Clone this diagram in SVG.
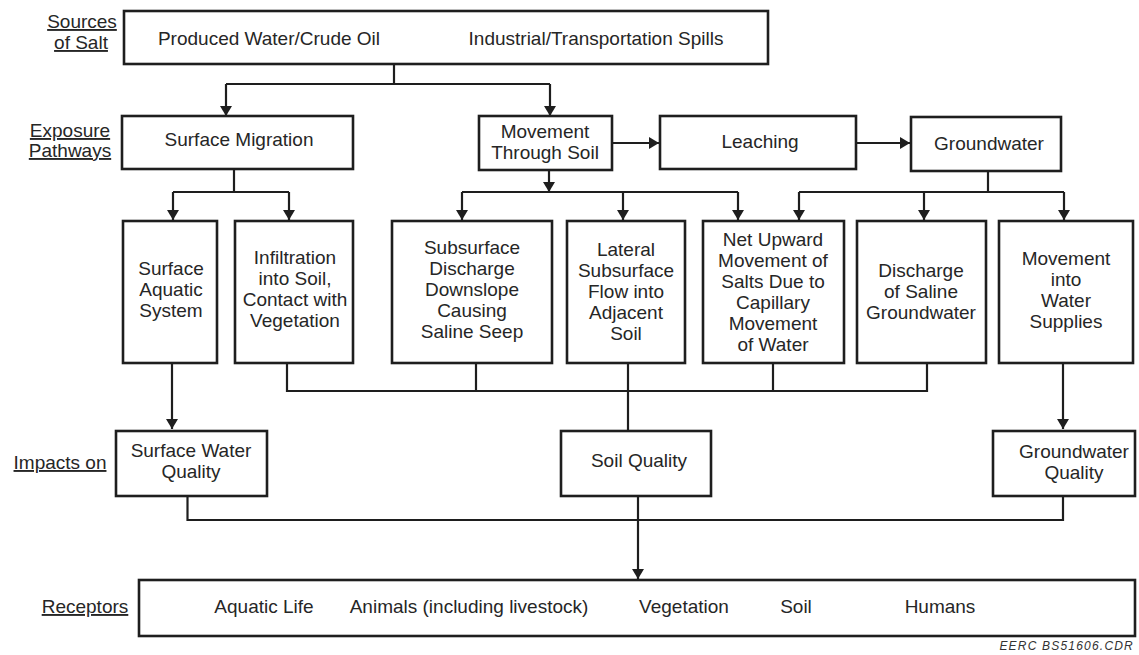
<svg xmlns="http://www.w3.org/2000/svg" width="1139" height="655" viewBox="0 0 1139 655">
<defs>
<style>
.box{fill:#fff;stroke:#1e1e1e;stroke-width:2.6}
.t{font-family:"Liberation Sans",Arial,sans-serif;font-size:19px;fill:#262626;text-anchor:middle}
.lbl{font-family:"Liberation Sans",Arial,sans-serif;font-size:19px;fill:#262626;text-anchor:middle;text-decoration:underline}
.c{fill:none;stroke:#1e1e1e;stroke-width:2.2}
.a{marker-end:url(#ah)}
.note{font-family:"Liberation Sans",Arial,sans-serif;font-size:12px;font-style:italic;fill:#333;text-anchor:end;letter-spacing:1.2px}
</style>
<marker id="ah" viewBox="0 0 10 12" markerUnits="userSpaceOnUse" markerWidth="11" markerHeight="12" refX="10" refY="6" orient="auto">
<path d="M0,0 L10,6 L0,12 z" fill="#1e1e1e"/>
</marker>
</defs>
<rect width="1139" height="655" fill="#fff"/>

<g id="labels">
<text class="lbl" x="82" y="28">Sources</text>
<text class="lbl" x="81" y="49">of Salt</text>
<text class="lbl" x="70" y="137">Exposure</text>
<text class="lbl" x="70" y="157">Pathways</text>
<text class="lbl" x="60" y="469">Impacts on</text>
<text class="lbl" x="85" y="613">Receptors</text>
<text class="note" x="1134" y="650">EERC BS51606.CDR</text>
</g>

<g id="connectors">
<path class="c" d="M394,64 V84 M226,84 H550"/>
<path class="c a" d="M226,84 V116"/>
<path class="c a" d="M550,84 V116"/>
<path class="c a" d="M612,143 H659"/>
<path class="c a" d="M856,143 H910"/>
<path class="c" d="M234,169 V192 M173,192 H289"/>
<path class="c a" d="M173,192 V220"/>
<path class="c a" d="M289,192 V220"/>
<path class="c a" d="M549,170 V192"/>
<path class="c" d="M462,192 H738"/>
<path class="c a" d="M462,192 V220"/>
<path class="c a" d="M623,192 V220"/>
<path class="c a" d="M738,192 V220"/>
<path class="c" d="M988,171 V192 M799,192 H1064"/>
<path class="c a" d="M799,192 V220"/>
<path class="c a" d="M924,192 V220"/>
<path class="c a" d="M1064,192 V220"/>
<path class="c a" d="M172,363 V429"/>
<path class="c" d="M287,363 V391 H927 V363 M476,363 V391 M773,363 V391"/>
<path class="c" d="M628,363 V431"/>
<path class="c a" d="M1063,363 V429"/>
<path class="c" d="M187.5,496 V520 H1063 V496"/>
<path class="c a" d="M638,496 V579"/>
</g>

<g id="sources">
<rect class="box" x="124" y="11" width="644" height="53"/>
<text class="t" x="269" y="45">Produced Water/Crude Oil</text>
<text class="t" x="596" y="45">Industrial/Transportation Spills</text>
</g>

<g id="surface-migration">
<rect class="box" x="122" y="116" width="231" height="53"/>
<text class="t" x="239" y="146">Surface Migration</text>
</g>
<g id="movement-through-soil">
<rect class="box" x="479" y="116" width="133" height="54"/>
<text class="t" x="545" y="138">Movement</text>
<text class="t" x="545" y="159">Through Soil</text>
</g>
<g id="leaching">
<rect class="box" x="660" y="116" width="196" height="53"/>
<text class="t" x="760" y="148">Leaching</text>
</g>
<g id="groundwater">
<rect class="box" x="911" y="117" width="150" height="54"/>
<text class="t" x="989" y="150">Groundwater</text>
</g>

<g id="surface-aquatic-system">
<rect class="box" x="123" y="221" width="94" height="142"/>
<text class="t" x="171" y="275">Surface</text>
<text class="t" x="171" y="296">Aquatic</text>
<text class="t" x="171" y="317">System</text>
</g>
<g id="infiltration">
<rect class="box" x="235" y="221" width="118" height="142"/>
<text class="t" x="295" y="264">Infiltration</text>
<text class="t" x="295" y="285">into Soil,</text>
<text class="t" x="295" y="306">Contact with</text>
<text class="t" x="295" y="327">Vegetation</text>
</g>
<g id="subsurface-discharge">
<rect class="box" x="392" y="221" width="160" height="142"/>
<text class="t" x="472" y="254">Subsurface</text>
<text class="t" x="472" y="275">Discharge</text>
<text class="t" x="472" y="296">Downslope</text>
<text class="t" x="472" y="317">Causing</text>
<text class="t" x="472" y="338">Saline Seep</text>
</g>
<g id="lateral-flow">
<rect class="box" x="567" y="221" width="118" height="142"/>
<text class="t" x="626" y="256">Lateral</text>
<text class="t" x="626" y="277">Subsurface</text>
<text class="t" x="626" y="298">Flow into</text>
<text class="t" x="626" y="319">Adjacent</text>
<text class="t" x="626" y="340">Soil</text>
</g>
<g id="net-upward">
<rect class="box" x="703" y="221" width="141" height="142"/>
<text class="t" x="773" y="246">Net Upward</text>
<text class="t" x="773" y="267">Movement of</text>
<text class="t" x="773" y="288">Salts Due to</text>
<text class="t" x="773" y="309">Capillary</text>
<text class="t" x="773" y="330">Movement</text>
<text class="t" x="773" y="351">of Water</text>
</g>
<g id="discharge-saline">
<rect class="box" x="857" y="221" width="129" height="142"/>
<text class="t" x="921" y="277">Discharge</text>
<text class="t" x="921" y="298">of Saline</text>
<text class="t" x="921" y="319">Groundwater</text>
</g>
<g id="movement-water-supplies">
<rect class="box" x="999" y="221" width="134" height="142"/>
<text class="t" x="1066" y="265">Movement</text>
<text class="t" x="1066" y="286">into</text>
<text class="t" x="1066" y="307">Water</text>
<text class="t" x="1066" y="328">Supplies</text>
</g>

<g id="surface-water-quality">
<rect class="box" x="116" y="431" width="151" height="65"/>
<text class="t" x="191" y="457">Surface Water</text>
<text class="t" x="191" y="478">Quality</text>
</g>
<g id="soil-quality">
<rect class="box" x="561" y="431" width="150" height="65"/>
<text class="t" x="639" y="467">Soil Quality</text>
</g>
<g id="groundwater-quality">
<rect class="box" x="993" y="431" width="142" height="65"/>
<text class="t" x="1074" y="458">Groundwater</text>
<text class="t" x="1074" y="479">Quality</text>
</g>

<g id="receptors">
<rect class="box" x="139" y="580" width="996" height="56"/>
<text class="t" x="264" y="613">Aquatic Life</text>
<text class="t" x="469" y="613">Animals (including livestock)</text>
<text class="t" x="684" y="613">Vegetation</text>
<text class="t" x="796" y="613">Soil</text>
<text class="t" x="940" y="613">Humans</text>
</g>
</svg>
